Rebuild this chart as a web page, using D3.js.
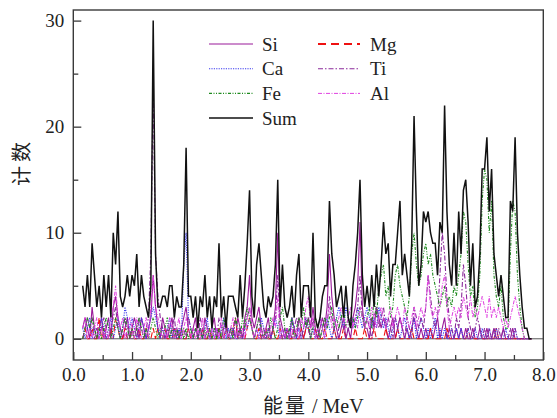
<!DOCTYPE html>
<html lang="zh">
<head>
<meta charset="UTF-8">
<title>能量谱</title>
<style>
    html, body { margin: 0; padding: 0; background: #fff; }
    #chart { width: 557px; height: 418px; }
</style>
</head>
<body>
<div id="chart"></div>

<script src="https://cdnjs.cloudflare.com/ajax/libs/d3/7.8.5/d3.min.js"></script>
<script>
    // 能道：0.16 MeV 起，每道 0.04 MeV
    const eStart = 0.16, eStep = 0.04;

    // 每行一个 MeV 区间（首行 0.16-0.96，末行 7.00-7.80）
    const sumCounts = [
        5,3,6,3,9,6,3,5,2,6,3,6,2,10,7,12,4,3,4,6,4,
        6,5,8,3,6,4,3,2,5,30,8,3,3,4,4,3,5,5,2,4,3,3,7,18,4,
        4,2,4,1,4,3,6,2,4,1,4,3,9,2,4,1,4,4,4,3,2,6,2,5,9,
        14,4,2,7,9,6,3,2,4,3,4,7,15,3,7,3,2,3,5,2,6,8,2,5,5,
        5,2,10,2,1,2,4,5,5,13,8,6,3,4,5,2,5,2,1,5,7,10,15,6,3,
        5,3,6,3,7,4,7,11,8,9,4,7,7,10,13,6,8,6,4,9,21,12,5,7,12,
        11,12,10,9,9,6,11,10,22,12,7,5,10,5,12,8,14,15,11,5,9,3,4,8,16,
        16,19,12,16,8,6,4,6,4,2,2,13,12,19,10,6,3,1,1,0,0
    ];
    const siCounts = [
        1,2,1,0,3,1,0,1,2,0,1,2,0,3,4,2,1,0,1,2,0,
        1,2,1,0,2,1,0,1,2,6,3,1,0,2,1,0,1,2,0,1,0,1,2,3,1,
        0,1,2,0,1,0,2,1,0,1,2,0,1,0,1,2,0,1,1,0,2,1,0,2,3,
        6,2,1,2,3,1,0,1,2,0,1,3,10,2,1,0,1,0,2,1,0,2,1,0,1,
        2,1,3,1,0,1,2,1,3,8,4,2,1,0,1,2,0,1,0,2,3,5,11,3,1,
        1,0,2,1,3,2,1,2,1,0,1,2,0,1,2,1,0,1,0,1,2,1,0,1,0,
        1,0,1,0,1,2,0,1,2,0,1,0,0,1,0,1,0,1,0,0,1,0,0,1,0,
        0,1,0,0,1,0,0,0,1,0,0,0,1,0,0,0,0,0,0,0,0
    ];
    const mgCounts = [
        0,1,0,0,1,0,0,2,0,1,0,0,1,0,2,1,0,0,1,0,0,
        1,0,0,1,0,0,1,0,0,1,0,1,0,0,1,0,0,0,1,0,0,1,0,0,1,
        0,0,1,0,0,1,0,0,1,0,0,0,1,0,0,1,0,0,1,2,0,1,0,0,1,
        2,1,0,0,1,0,0,1,0,0,1,0,0,1,0,0,1,0,0,1,0,0,1,0,1,
        1,0,0,1,0,0,0,1,0,0,0,1,0,0,0,1,0,0,0,0,1,0,0,0,1,
        0,0,0,1,0,0,0,0,1,0,0,0,0,1,0,0,0,0,0,1,0,0,0,0,0,
        0,0,1,0,0,0,0,0,0,1,0,0,0,0,0,0,0,0,1,0,0,0,0,0,0,
        0,0,0,0,0,1,0,0,0,0,0,0,0,0,0,0,0,0,0,0,0
    ];
    const caCounts = [
        1,0,1,2,0,1,1,0,2,1,0,1,2,0,1,2,0,1,3,2,1,
        2,1,0,1,2,1,0,1,2,3,2,1,0,1,0,1,2,0,1,0,1,0,7,10,2,
        1,0,1,0,1,0,1,2,0,1,0,1,0,1,2,0,1,0,1,0,0,1,0,1,1,
        2,1,0,1,0,2,1,0,1,0,1,2,1,0,1,0,1,0,2,1,0,1,0,1,2,
        1,0,1,0,1,2,1,0,2,1,0,1,2,3,2,1,3,2,1,2,1,3,2,1,2,
        3,2,1,2,1,3,2,1,2,1,0,1,2,1,0,1,2,1,0,1,2,0,1,2,1,
        0,1,0,1,2,0,1,0,1,0,0,1,0,1,0,1,0,0,1,0,0,1,0,0,1,
        0,0,1,0,0,1,0,0,0,1,0,0,0,1,0,0,0,0,0,0,0
    ];
    const tiCounts = [
        0,1,2,1,2,0,1,0,1,2,1,0,1,2,3,1,0,1,2,0,1,
        0,1,0,2,1,0,1,2,8,24,8,4,2,1,0,1,0,1,2,0,1,0,1,0,2,
        1,0,1,0,2,1,0,1,0,0,1,0,2,1,0,1,0,1,0,2,0,1,0,1,2,
        3,1,0,1,2,0,1,0,1,0,1,2,6,1,0,1,0,1,0,1,2,1,0,1,2,
        1,0,2,0,1,0,1,2,1,4,2,1,0,1,2,1,0,1,2,1,2,3,6,2,1,
        2,1,0,2,3,1,2,3,1,2,1,0,2,1,2,1,0,2,1,0,3,2,1,2,1,
        3,6,4,2,1,2,6,10,8,4,2,1,0,2,1,3,7,5,2,1,0,1,2,1,0,
        1,0,1,0,1,0,1,0,1,0,0,1,0,1,0,0,0,0,0,0,0
    ];
    const feCounts = [
        0,1,2,1,2,1,0,1,0,1,2,1,0,1,2,1,0,1,2,1,0,
        1,0,1,2,1,0,1,0,1,2,1,0,1,0,1,2,0,1,0,1,0,1,0,1,0,
        1,0,1,0,1,0,1,0,1,0,1,0,1,0,2,1,0,1,0,2,1,0,2,1,3,
        2,1,0,1,2,1,0,1,0,2,1,0,1,2,3,1,0,1,2,0,1,2,1,3,1,
        2,0,1,2,1,0,1,2,1,2,3,1,2,1,2,3,1,2,1,2,1,2,3,2,1,
        2,3,1,4,2,5,6,7,4,5,2,3,6,7,5,4,3,2,4,8,10,7,5,6,8,
        9,7,8,6,5,4,3,4,5,3,4,3,5,4,6,8,12,11,7,4,5,2,3,6,13,
        16,15,10,13,6,4,3,5,2,1,1,8,13,12,6,3,1,0,0,0,0
    ];
    const alCounts = [
        1,2,0,1,0,1,2,0,1,0,1,0,2,3,5,2,1,2,0,1,2,
        1,0,2,1,0,1,2,0,3,6,3,2,1,0,1,0,2,1,0,1,2,0,1,2,1,
        0,1,0,1,0,2,0,1,0,1,0,1,0,2,0,1,0,1,2,0,1,0,1,0,2,
        3,1,0,1,0,1,0,1,0,1,2,1,4,0,1,0,1,0,1,0,1,0,2,1,3,
        4,1,2,0,1,2,1,0,2,3,1,2,1,2,3,2,1,2,3,1,2,1,3,2,1,
        2,1,3,2,1,2,3,2,1,2,3,1,2,3,2,1,3,2,1,2,3,1,2,3,2,
        3,6,3,2,3,2,3,5,6,3,1,2,3,2,3,2,4,3,2,4,2,3,2,3,4,
        3,2,4,2,3,2,3,2,1,2,1,2,3,4,3,2,1,0,0,0,0
    ];

    const xTicks = [0, 1, 2, 3, 4, 5, 6, 7, 8];
    const xMinor = [0.5, 1.5, 2.5, 3.5, 4.5, 5.5, 6.5, 7.5];
    const yTicks = [0, 10, 20, 30];
    const yMinor = [5, 15, 25];

    // 绘制顺序 = 图例顺序（Sum 最后）
    const series = [
        { name: 'Si',  values: siCounts,  color: '#9a1a9a', dash: null,          width: 1.1 },
        { name: 'Mg',  values: mgCounts,  color: '#ee1111', dash: '6,3',         width: 1.1 },
        { name: 'Ca',  values: caCounts,  color: '#3a3aee', dash: '1.2,1.2',     width: 1.1 },
        { name: 'Ti',  values: tiCounts,  color: '#8a2a9a', dash: '5,2,1.5,2',   width: 1.1 },
        { name: 'Fe',  values: feCounts,  color: '#1e8a1e', dash: '3,1.5,1,1.5,1,1.5', width: 1.1 },
        { name: 'Al',  values: alCounts,  color: '#e040e0', dash: '4,1.5,1,1.5', width: 1 },
        { name: 'Sum', values: sumCounts, color: '#111111', dash: null,          width: 1.5 }
    ];
    const energy = sumCounts.map((_, i) => +(eStart + i * eStep).toFixed(2));

    const serif = '"Liberation Serif", "Times New Roman", Times, serif';
    const cjk = '"Noto Sans CJK SC", sans-serif';

    const W = 557, H = 418;
    const pL = 73.3, pR = 543.3, pT = 10, pB = 360;

    const svg = d3.select('#chart').append('svg')
        .attr('width', W).attr('height', H);

    const x = d3.scaleLinear().domain([0, 8]).range([pL, pR]);
    const y = d3.scaleLinear().domain([-2, 31]).range([pB, pT]);

    // 曲线
    const line = d3.line()
        .x((d, i) => x(energy[i]))
        .y(d => y(d));

    svg.append('line')
        .attr('x1', pL).attr('x2', pR)
        .attr('y1', y(0)).attr('y2', y(0))
        .attr('stroke', '#555').attr('stroke-width', 1);

    svg.append('g').selectAll('path')
        .data(series)
        .join('path')
        .attr('d', s => line(s.values))
        .attr('fill', 'none')
        .attr('stroke', s => s.color)
        .attr('stroke-width', s => s.width)
        .attr('stroke-dasharray', s => s.dash)
        .attr('stroke-linejoin', 'miter');

    // 坐标轴（刻度朝内）
    const axisColor = '#3a3a3a';
    svg.append('g').attr('transform', `translate(0,${pB})`)
        .call(d3.axisBottom(x).tickValues(xTicks).tickSize(-8).tickPadding(8)
            .tickFormat(d3.format('.1f')));
    svg.append('g').attr('transform', `translate(0,${pB})`)
        .call(d3.axisBottom(x).tickValues(xMinor).tickSize(-5).tickFormat(''));
    svg.append('g').attr('transform', `translate(${pL},0)`)
        .call(d3.axisLeft(y).tickValues(yTicks).tickSize(-8).tickPadding(9));
    svg.append('g').attr('transform', `translate(${pL},0)`)
        .call(d3.axisLeft(y).tickValues(yMinor).tickSize(-5).tickFormat(''));

    svg.selectAll('.domain').remove();
    svg.selectAll('.tick line').attr('stroke', axisColor).attr('stroke-width', 1.3);
    svg.selectAll('.tick text')
        .style('font-family', serif)
        .style('font-size', '19px')
        .attr('fill', '#222');

    svg.append('rect')
        .attr('x', pL).attr('y', pT)
        .attr('width', pR - pL).attr('height', pB - pT)
        .attr('fill', 'none').attr('stroke', axisColor).attr('stroke-width', 1.4);

    // 轴标题
    svg.append('text')
        .attr('transform', 'translate(29,162) rotate(-90)')
        .attr('text-anchor', 'middle')
        .style('font-family', cjk)
        .style('font-size', '20px')
        .attr('letter-spacing', 4)
        .attr('fill', '#222')
        .text('计数');

    const xt = svg.append('text')
        .attr('x', 263).attr('y', 413)
        .style('font-size', '20px').attr('fill', '#222');
    xt.append('tspan').style('font-family', cjk)
        .attr('letter-spacing', 2).text('能量');
    xt.append('tspan').style('font-family', serif).text(' / MeV');

    // 图例
    const legendRows = [
        ['Si', 0, 0], ['Ca', 0, 1], ['Fe', 0, 2], ['Sum', 0, 3],
        ['Mg', 1, 0], ['Ti', 1, 1], ['Al', 1, 2]
    ];
    const legX = [[209, 253, 262], [318, 360, 370]];
    const lg = svg.append('g');
    legendRows.forEach(([name, col, row]) => {
        const s = series.find(d => d.name === name);
        const ly = 44 + row * 24.7;
        lg.append('line')
            .attr('x1', legX[col][0]).attr('x2', legX[col][1])
            .attr('y1', ly).attr('y2', ly)
            .attr('stroke', s.color)
            .attr('stroke-width', name === 'Mg' ? 2 : s.width)
            .attr('stroke-dasharray', name === 'Mg' ? '8,5' : s.dash);
        lg.append('text')
            .attr('x', legX[col][2]).attr('y', ly + 6.5)
            .style('font-family', serif)
            .style('font-size', '19px')
            .attr('fill', '#222')
            .text(name);
    });
</script>
</body>
</html>
